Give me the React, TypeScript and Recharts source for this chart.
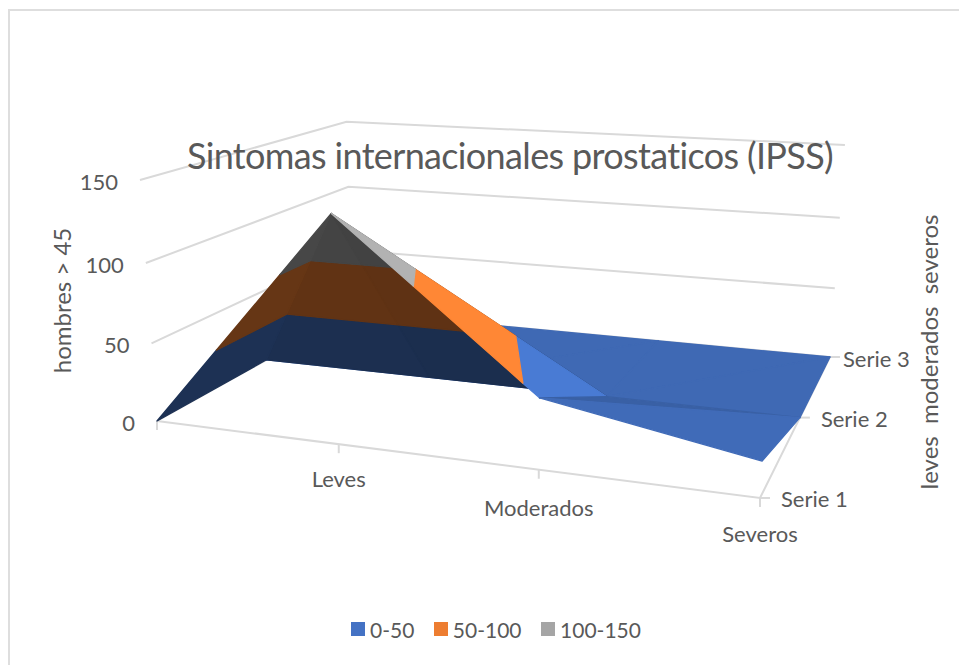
import { Scatter, ScatterChart, XAxis, YAxis } from 'recharts';

// Chart values
const CATEGORIES = ['', 'Leves', 'Moderados', 'Severos'];
const SERIES = ['Serie 1', 'Serie 2', 'Serie 3'];
const SERIE_1 = [0, 138, 42.5, 21];
const SERIE_2 = [0, 0, 0, 0];
const SERIE_3 = [0, 0, 0, 0];
const VALUE_TICKS = [0, 50, 100, 150];
const BANDS = ['0-50', '50-100', '100-150'];

const WIDTH = 959;
const HEIGHT = 665;
const FONT = 'Lato, "Open Sans", sans-serif';
const TEXT = '#595959';
const GRID = '#D9D9D9';
const BAND_RGB = [
  [68, 114, 196],
  [237, 125, 49],
  [165, 165, 165],
];

// Lighting of each surface triangle, back row first (Excel darkens the underside)
const FACE_TONES = [0.92, 0.92, 0.92, 0.92, 0.92, 0.92, 0.41, 0.43, 0.4, 1.08, 0.84, 0.94];

// Label nudges away from the axis line
const CATEGORY_LABEL_DY = [0, 34, 38, 36];
const SERIES_LABEL_DX = [21, 21, 13];

type Vertex = { u: number; v: number; z: number };

// ─── 3D view ──────────────────────────────────────────────────────────────────
// Perspective from chart space (category, series, value) to the x/y axes below.

function project({ u, v, z }: Vertex) {
  const w = z / 150;
  const d = -0.1371 * u + 0.2816 * v - 0.0484 * w + 1;
  return {
    x: (498.8 * u + 294.1 * v - 23.8 * w + 157) / d,
    y: (8.7 * u - 21.1 * v - 249.7 * w + 421) / d,
  };
}

const at = (u: number, v: number, z: number) => project({ u, v, z });

// ─── Surface ──────────────────────────────────────────────────────────────────

const ROWS = [SERIE_1, SERIE_2, SERIE_3];

const vertex = (i: number, j: number): Vertex => ({
  u: i / (CATEGORIES.length - 1),
  v: j / (SERIES.length - 1),
  z: ROWS[j][i],
});

// Each cell folds along the diagonal that holds its high corner
function cellTriangles(i: number, j: number): Vertex[][] {
  const a = vertex(i, j);
  const b = vertex(i + 1, j);
  const c = vertex(i + 1, j + 1);
  const d = vertex(i, j + 1);
  if (a.z + c.z >= b.z + d.z) return [[a, d, c], [a, b, c]];
  return [[b, c, d], [a, b, d]];
}

function clip(poly: Vertex[], keep: (p: Vertex) => boolean, limit: number) {
  const out: Vertex[] = [];
  poly.forEach((p, n) => {
    const q = poly[(n + 1) % poly.length];
    if (keep(p)) out.push(p);
    if (keep(p) !== keep(q)) {
      const t = (limit - p.z) / (q.z - p.z);
      out.push({ u: p.u + (q.u - p.u) * t, v: p.v + (q.v - p.v) * t, z: limit });
    }
  });
  return out;
}

function buildFacets() {
  const facets: { fill: string; points: { x: number; y: number }[] }[] = [];
  let face = 0;
  for (let j = SERIES.length - 2; j >= 0; j--) {
    for (let i = 0; i < CATEGORIES.length - 1; i++) {
      for (const tri of cellTriangles(i, j)) {
        const tone = FACE_TONES[face++];
        BAND_RGB.forEach((rgb, b) => {
          const lo = b * 50;
          const hi = lo + 50;
          const part = clip(clip(tri, (p) => p.z >= lo, lo), (p) => p.z <= hi, hi);
          if (part.length < 3) return;
          const [r, g, bl] = rgb.map((c) => Math.min(255, Math.round(c * tone)));
          facets.push({ fill: `rgb(${r},${g},${bl})`, points: part.map(project) });
        });
      }
    }
  }
  return facets;
}

const FACETS = buildFacets();

// ─── Marks ────────────────────────────────────────────────────────────────────

const NoDot = () => <g />;

const polygonLine = (fill: string) => (props: any) => (
  <polygon
    points={props.points.map((p: any) => `${p.x},${p.y}`).join(' ')}
    fill={fill}
    stroke={fill}
    strokeWidth={1.3}
    strokeLinejoin="round"
  />
);

const TextMark = (props: any) => {
  const { cx, cy, payload } = props;
  return (
    <text
      x={cx}
      y={cy}
      fill={TEXT}
      fontFamily={FONT}
      fontSize={payload.size ?? 22}
      letterSpacing={payload.spacing}
      textAnchor={payload.anchor ?? 'middle'}
      dominantBaseline="central"
      transform={payload.rotate ? `rotate(${payload.rotate} ${cx} ${cy})` : undefined}
    >
      {payload.label}
    </text>
  );
};

const wallLines = VALUE_TICKS.map((t) => [at(0, 0, t), at(0, 1, t), at(1, 1, t)]);
const categoryTicks = CATEGORIES.map((_, i) => {
  const p = at(i / (CATEGORIES.length - 1), 0, 0);
  return [p, { x: p.x, y: p.y + 9 }];
});
const seriesTicks = SERIES.map((_, j) => {
  const p = at(1, j / (SERIES.length - 1), 0);
  return [p, { x: p.x + 10, y: p.y }];
});

const valueLabels = VALUE_TICKS.map((t) => {
  const p = at(0, 0, t);
  return { x: p.x - 22, y: p.y + 1, label: String(t), anchor: 'end' };
});
const categoryLabels = CATEGORIES.map((label, i) => {
  const p = at(i / (CATEGORIES.length - 1), 0, 0);
  return { x: p.x, y: p.y + CATEGORY_LABEL_DY[i], label };
}).filter((d) => d.label);
const seriesLabels = SERIES.map((label, j) => {
  const p = at(1, j / (SERIES.length - 1), 0);
  return { x: p.x + SERIES_LABEL_DX[j], y: p.y + 1, label, anchor: 'start' };
});
const titleLabels = [
  { x: 510, y: 155, label: 'Sintomas internacionales prostaticos (IPSS)', size: 36, spacing: -0.65 },
  { x: 61, y: 300.5, label: 'hombres > 45', size: 24, rotate: -90 },
  { x: 928, y: 352, label: 'leves\u00A0\u00A0moderados\u00A0\u00A0severos', size: 24, rotate: -90 },
];

const LEGEND_COLORS = ['#4472C4', '#ED7D31', '#A5A5A5'];

export default function App() {
  return (
    <div style={{ position: 'absolute', left: 0, top: 0, width: WIDTH, height: HEIGHT, background: '#fff' }}>
      <div style={{ position: 'absolute', left: 8, top: 9, right: 0, bottom: 0, borderLeft: '2px solid #DEDEDE', borderTop: '2px solid #DEDEDE' }} />
      <div style={{ position: 'absolute', left: 0, top: 0 }}>
        <ScatterChart width={WIDTH} height={HEIGHT} margin={{ top: 0, right: 0, bottom: 0, left: 0 }}>
          <XAxis type="number" dataKey="x" domain={[0, WIDTH]} hide />
          <YAxis type="number" dataKey="y" domain={[0, HEIGHT]} reversed hide />
          {wallLines.map((d, i) => (
            <Scatter key={`wall${i}`} data={d} line={{ stroke: GRID, strokeWidth: 2 }} shape={NoDot} isAnimationActive={false} />
          ))}
          {[...categoryTicks, ...seriesTicks, [at(0, 0, 0), at(1, 0, 0), at(1, 1, 0)]].map((d, i) => (
            <Scatter key={`axis${i}`} data={d} line={{ stroke: GRID, strokeWidth: 2 }} shape={NoDot} isAnimationActive={false} />
          ))}
          {FACETS.map((f, i) => (
            <Scatter key={`facet${i}`} data={f.points} line={polygonLine(f.fill)} shape={NoDot} isAnimationActive={false} />
          ))}
          <Scatter data={[...valueLabels, ...categoryLabels, ...seriesLabels, ...titleLabels]} shape={TextMark} isAnimationActive={false} />
        </ScatterChart>
      </div>
      <div style={{ position: 'absolute', left: 351, top: 615, display: 'flex', alignItems: 'center', height: 28, fontFamily: FONT, fontSize: 21, color: TEXT }}>
        {BANDS.map((b, i) => (
          <span key={b} style={{ display: 'flex', alignItems: 'center', marginRight: 19.5 }}>
            <span style={{ width: 14, height: 14, background: LEGEND_COLORS[i], marginRight: 5 }} />
            {b}
          </span>
        ))}
      </div>
    </div>
  );
}
